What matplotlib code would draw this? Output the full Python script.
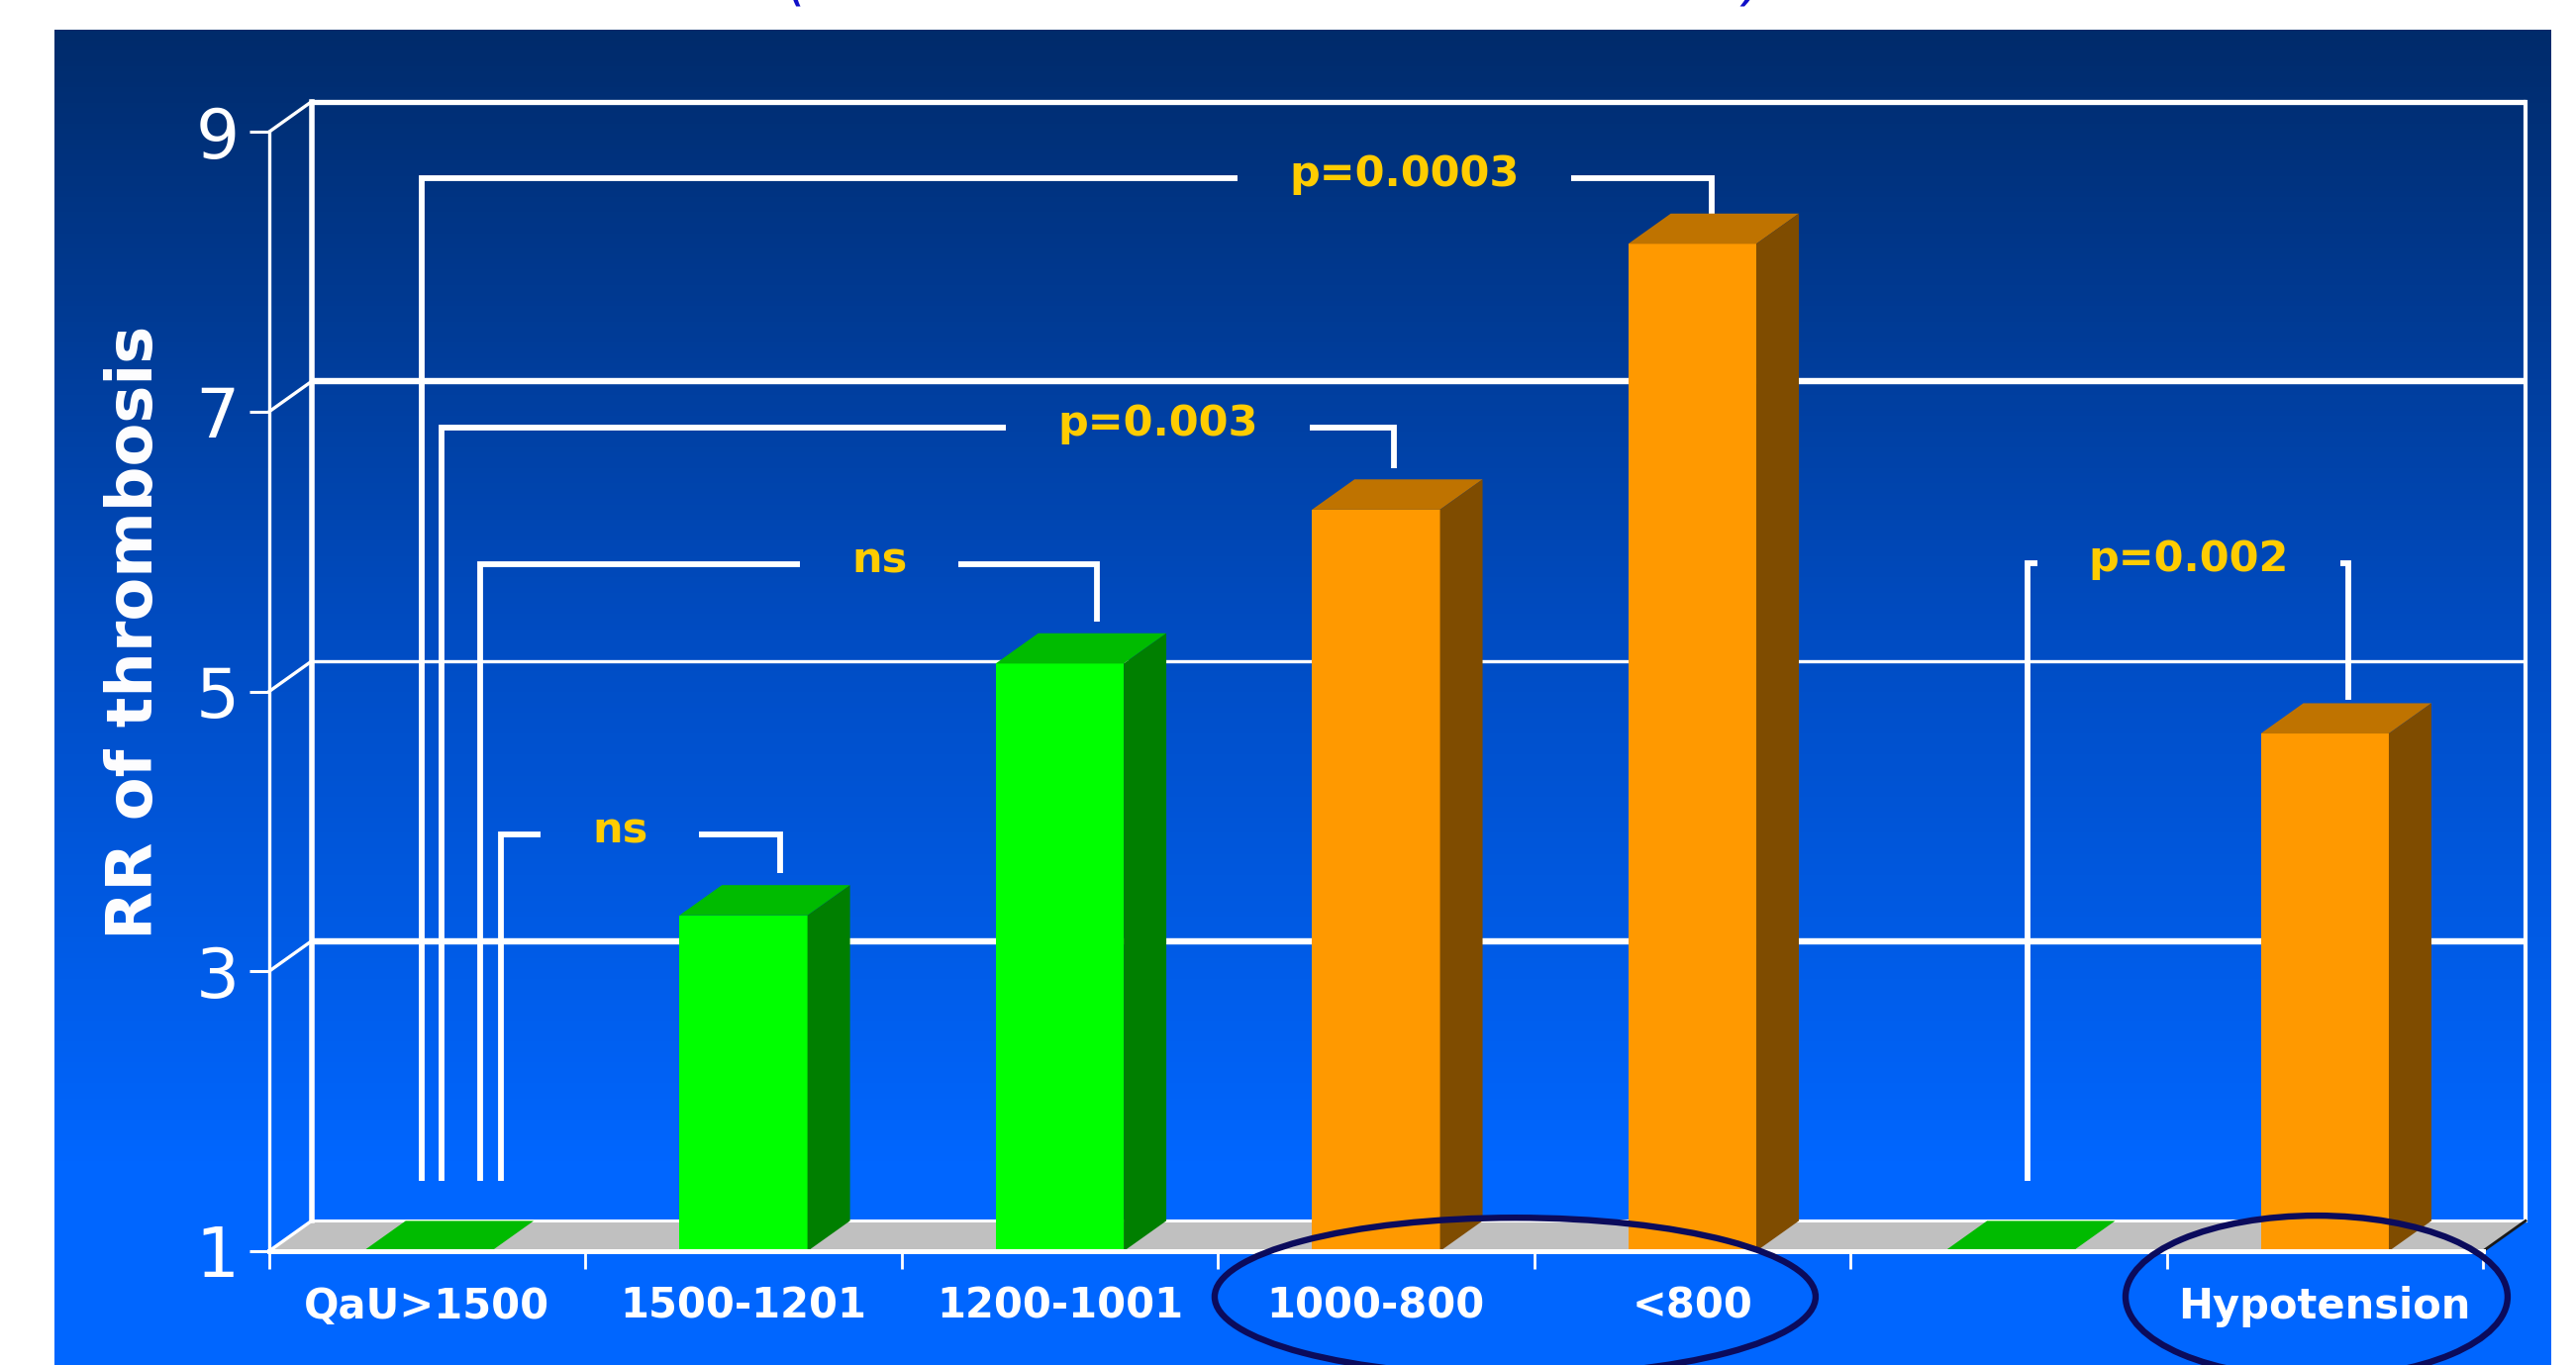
"""
RR de trombosis por categoría de QaU (barras 3D al estilo PowerPoint).
"""

import numpy as np
import matplotlib
matplotlib.use('Agg')
import matplotlib.pyplot as plt
from matplotlib.patches import Polygon, Ellipse
from matplotlib.colors import LinearSegmentedColormap

# Datos
categories = ['QaU>1500', '1500-1201', '1200-1001', '1000-800', '<800', '', 'Hypotension']
rr_values = [1.0, 3.4, 5.2, 6.3, 8.2, 1.0, 4.7]
bar_groups = ['green', 'green', 'green', 'orange', 'orange', 'green', 'orange']
y_ticks = [1, 3, 5, 7, 9]

# Corchetes de significación
br_labels = ['p=0.0003', 'p=0.003', 'ns', 'ns', 'p=0.002']
br_left = [0.483, 0.546, 0.668, 0.734, 5.560]
br_right = [4.561, 3.557, 2.618, 1.616, 6.574]
br_level = [8.67, 6.89, 5.91, 3.98, 5.92]
br_end = [8.40, 6.60, 5.50, 3.70, 4.94]
br_text_x = [3.59, 2.81, 1.93, 1.11, 6.07]
br_base = 1.50

# colores: frente, tapa, lateral
face_colors = {
    'green': ('#00FF00', '#00BB00', '#007F00'),
    'orange': ('#FF9900', '#BF7300', '#7F4C00'),
}

W, H = 2602, 1379
DX = 0.1346   # profundidad 3D en unidades de categoría
DY = 0.2166   # profundidad 3D en unidades de RR
BAR_W = 0.405

fig = plt.figure(figsize=(W / 100, H / 100), dpi=100)
fig.patch.set_facecolor('white')

# fondo degradado azul
bg = fig.add_axes([55 / W, 0, 2522 / W, 1349 / H])
cmap = LinearSegmentedColormap.from_list(
    'fondo', [(0, '#002B6B'), (0.45, '#004CC2'), (0.85, '#0066FF'), (1, '#0066FF')])
bg.imshow(np.linspace(0, 1, 256)[:, None], aspect='auto', cmap=cmap, extent=[0, 1, 0, 1])
bg.axis('off')

# restos del título cortado arriba (solo asoma la parte baja de los paréntesis)
fig.text(806 / W, 1 + 2 / H, '(', fontsize=40, color='#1010C8', ha='center',
         va='baseline', style='italic')
fig.text(1771 / W, 1 + 2 / H, ')', fontsize=40, color='#1010C8', ha='center',
         va='baseline', style='italic')

ax = fig.add_axes([271.7 / W, 115 / H, (2508 - 271.7) / W, (1264 - 133.3) / H])
ax.set_xlim(0, 7)
ax.set_ylim(1, 9)
ax.patch.set_alpha(0)

# suelo gris
ax.add_patch(Polygon([(0, 1), (7, 1), (7 + DX, 1 + DY), (DX, 1 + DY)],
                     closed=True, facecolor='#C0C0C0', edgecolor='none',
                     clip_on=False, zorder=1))

# pared del fondo
grid_lw = {3: 4.6, 5: 2.4, 7: 4.6, 9: 3.8}
for v in y_ticks[1:]:
    ax.plot([DX, 7 + DX], [v + DY, v + DY], color='white', lw=grid_lw[v],
            clip_on=False, zorder=1.5, solid_capstyle='butt')
ax.plot([DX, 7 + DX], [1 + DY, 1 + DY], color='white', lw=2.2, clip_on=False, zorder=1.5)
ax.plot([DX, DX], [1 + DY, 9 + DY], color='white', lw=4, clip_on=False, zorder=1.5)
ax.plot([7 + DX, 7 + DX], [1 + DY, 9 + DY], color='white', lw=3, clip_on=False, zorder=1.5)
for v in y_ticks:
    ax.plot([0, DX], [v, v + DY], color='white', lw=2.4, clip_on=False, zorder=1.5)
ax.plot([7, 7 + DX], [1, 1 + DY], color='#1A1A1A', lw=2, clip_on=False, zorder=1.5)

# barras 3D
for i, (v, g) in enumerate(zip(rr_values, bar_groups)):
    front, top, side = face_colors[g]
    x0 = i + 0.5 - BAR_W / 2
    x1 = x0 + BAR_W
    ax.bar(i + 0.5, v - 1, bottom=1, width=BAR_W, color=front, linewidth=0, zorder=3)
    ax.add_patch(Polygon([(x0, v), (x1, v), (x1 + DX, v + DY), (x0 + DX, v + DY)],
                         closed=True, facecolor=top, edgecolor='none', zorder=3))
    if v > 1:
        ax.add_patch(Polygon([(x1, 1), (x1, v), (x1 + DX, v + DY), (x1 + DX, 1 + DY)],
                             closed=True, facecolor=side, edgecolor='none', zorder=3))

# ejes
for s in ['top', 'right']:
    ax.spines[s].set_visible(False)
ax.spines['left'].set_color('white')
ax.spines['left'].set_linewidth(2.4)
ax.spines['bottom'].set_color('white')
ax.spines['bottom'].set_linewidth(3.6)
ax.spines['bottom'].set_zorder(4)

ax.set_yticks(y_ticks)
ax.tick_params(axis='y', length=14.4, width=2.2, color='white', labelcolor='white',
               labelsize=50, pad=7)
ax.set_xticks(range(8))
ax.set_xticklabels([])
ax.tick_params(axis='x', which='major', length=13, width=2, color='white')
ax.set_xticks(np.arange(7) + 0.5, minor=True)
ax.set_xticklabels(categories, minor=True, fontweight='bold', fontsize=30, color='white')
ax.tick_params(axis='x', which='minor', length=0, pad=25)

ax.set_ylabel('RR of thrombosis', fontsize=46, fontweight='bold', color='white', va='center')
ax.yaxis.set_label_coords(-0.0607, 0.553)

# textos de significación y corchetes con hueco para el texto
texts = []
for lab, xt, lev in zip(br_labels, br_text_x, br_level):
    t = ax.annotate(lab, (xt, lev), xytext=(0, -6), textcoords='offset points',
                    ha='center', va='baseline', color='#FFCC00', fontsize=31,
                    fontweight='bold', zorder=5)
    texts.append(t)

fig.canvas.draw()
renderer = fig.canvas.get_renderer()
inv = ax.transData.inverted()
for t, xl, xr, lev, ye in zip(texts, br_left, br_right, br_level, br_end):
    bb = t.get_window_extent(renderer)
    gl = inv.transform((bb.x0 - 52, 0))[0]
    gr = inv.transform((bb.x1 + 52, 0))[0]
    ax.plot([xl, xl, gl], [br_base, lev, lev], color='white', lw=4.2,
            solid_joinstyle='miter', solid_capstyle='butt', zorder=2)
    ax.plot([gr, xr, xr], [lev, lev, ye], color='white', lw=4.2,
            solid_joinstyle='miter', solid_capstyle='butt', zorder=2)

# elipses dibujadas a mano sobre las etiquetas
ax.add_patch(Ellipse((3.94, 0.674), 1.90, 1.13, fill=False, edgecolor='#0B0B5C',
                     lw=4.6, clip_on=False, zorder=6))
ax.add_patch(Ellipse((6.474, 0.674), 1.208, 1.16, fill=False, edgecolor='#0B0B5C',
                     lw=4.6, clip_on=False, zorder=6))

fig.savefig('out.png', dpi=100)
plt.close(fig)
